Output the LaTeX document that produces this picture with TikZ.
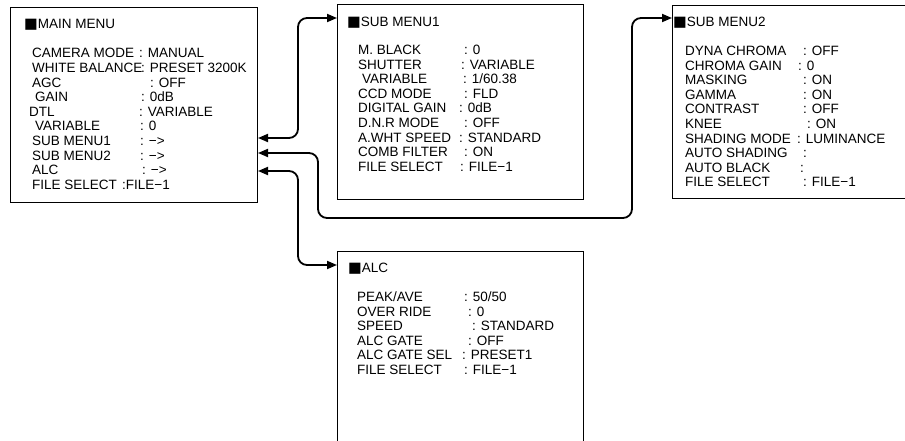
\documentclass[tikz,border=0pt]{standalone}
\usepackage{fontspec}
\setmainfont{Liberation Sans}
\newfontfamily\symfont{DejaVu Sans}
\usetikzlibrary{arrows.meta}
\newcommand\blk{{\symfont\fontsize{14.5}{15}\selectfont ■}}
\begin{document}
\begin{tikzpicture}[x=1pt,y=-1pt,
  box/.style={draw, line width=1pt, anchor=north west, inner sep=0pt},
  txt/.style={anchor=base west, inner sep=0pt, font=\fontsize{13.5}{15}\selectfont},
  conn/.style={line width=1.8pt, rounded corners=9pt, {Triangle[length=10pt,width=8pt]}-{Triangle[length=10pt,width=8pt]}}]
\useasboundingbox (0,0) rectangle (905,441);
\fill[white] (0,0) rectangle (905,441);
\clip (0,0) rectangle (905,441);

% boxes
\node[box, minimum width=247pt, minimum height=195pt] (main) at (10,7) {};
\node[box, minimum width=246pt, minimum height=194.5pt] (sub1) at (337,4.5) {};
\node[box, minimum width=250pt, minimum height=193pt] (sub2) at (672,5) {};
\node[box, minimum width=246pt, minimum height=220pt] (alc) at (337,251) {};

% titles
\node[txt] (mt) at (24,29) {\blk MAIN MENU};
\node[txt] (s1t) at (347,27) {\blk SUB MENU1};
\node[txt] (s2t) at (673,27) {\blk SUB MENU2};
\node[txt] (at) at (348,272) {\blk ALC};

% main menu rows
\foreach \l/\lx/\v/\vx [count=\i] in {
  {CAMERA MODE}/32/{: MANUAL}/139,
  {WHITE BALANCE}/32/{: PRESET 3200K}/141,
  {AGC}/32/{: OFF}/150,
  {GAIN}/35/{: 0dB}/141,
  {DTL}/29/{: VARIABLE}/139,
  {VARIABLE}/35/{: 0}/140,
  {SUB MENU1}/32/{: −>}/140,
  {SUB MENU2}/32/{: −>}/140,
  {ALC}/32/{: −>}/142,
  {FILE SELECT}/32/{:FILE−1}/122}
{
  \node[txt] (ml\i) at (\lx,58+14.6*\i-14.6) {\l};
  \node[txt] (mv\i) at (\vx,58+14.6*\i-14.6) {\v};
}

% sub menu1 rows
\foreach \l/\lx/\v/\vx [count=\i] in {
  {M. BLACK}/358/{: 0}/464,
  {SHUTTER}/358/{: VARIABLE}/461,
  {VARIABLE}/362/{: 1/60.38}/463,
  {CCD MODE}/358/{: FLD}/464,
  {DIGITAL GAIN}/358/{: 0dB}/459,
  {D.N.R MODE}/358/{: OFF}/464,
  {A.WHT SPEED}/358/{: STANDARD}/459,
  {COMB FILTER}/358/{: ON}/464,
  {FILE SELECT}/358/{: FILE−1}/460}
{
  \node[txt] (al\i) at (\lx,54.5+14.6*\i-14.6) {\l};
  \node[txt] (av\i) at (\vx,54.5+14.6*\i-14.6) {\v};
}

% sub menu2 rows
\foreach \l/\v/\vx [count=\i] in {
  {DYNA CHROMA}/{: OFF}/803,
  {CHROMA GAIN}/{: 0}/798,
  {MASKING}/{: ON}/803,
  {GAMMA}/{: ON}/803,
  {CONTRAST}/{: OFF}/803,
  {KNEE}/{: ON}/807,
  {SHADING MODE}/{: LUMINANCE}/797,
  {AUTO SHADING}/{:}/803,
  {AUTO BLACK}/{:}/800,
  {FILE SELECT}/{: FILE−1}/803}
{
  \node[txt] (bl\i) at (685,56+14.5*\i-14.5) {\l};
  \node[txt] (bv\i) at (\vx,56+14.5*\i-14.5) {\v};
}

% ALC rows
\foreach \l/\v/\vx [count=\i] in {
  {PEAK/AVE}/{: 50/50}/464,
  {OVER RIDE}/{: 0}/468,
  {SPEED}/{: STANDARD}/472,
  {ALC GATE}/{: OFF}/468,
  {ALC GATE SEL}/{: PRESET1}/462,
  {FILE SELECT}/{: FILE−1}/464}
{
  \node[txt] (cl\i) at (357,301.5+14.6*\i-14.6) {\l};
  \node[txt] (cv\i) at (\vx,301.5+14.6*\i-14.6) {\v};
}

% connectors
\draw[conn] (main.east |- 0,138) -- (298,138) -- (298,18) -- (sub1.west |- 0,18);
\draw[conn] (main.east |- 0,153) -- (318,153) -- (318,218) -- (632,218) -- (632,18) -- (sub2.west |- 0,18);
\draw[conn] (main.east |- 0,171) -- (298,171) -- (298,265) -- (alc.west |- 0,265);
\end{tikzpicture}
\end{document}
